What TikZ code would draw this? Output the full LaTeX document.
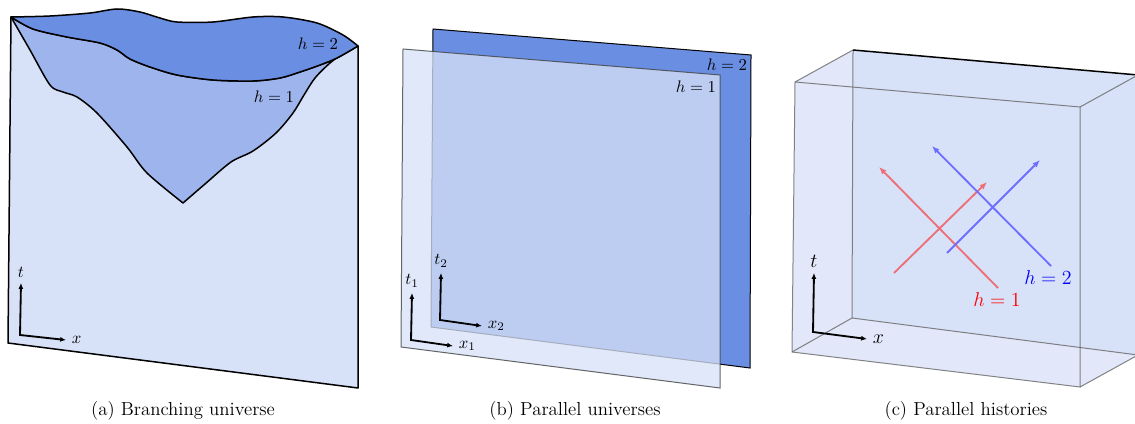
\documentclass[tikz,border=0pt]{standalone}
\usepackage{amsmath}
\usetikzlibrary{positioning,arrows.meta}
\definecolor{sheetlight}{HTML}{D7E1F7}
\definecolor{sheetmid}{HTML}{9EB4EC}
\definecolor{sheetdark}{HTML}{6A8EE2}
\definecolor{boxside}{HTML}{E2E8F9}
\definecolor{histred}{HTML}{EE6E78}
\definecolor{histblue}{HTML}{6E6EFF}
\tikzset{
  sheet/.style={draw=black,line width=0.9pt,line join=round},
  frontsheet/.style={fill=sheetlight,fill opacity=0.77,draw=black!75,draw opacity=0.8,line width=0.6pt},
  boxedge/.style={draw=black!60,draw opacity=0.8,line width=0.6pt},
  axis/.style={{Latex[length=3.5pt,width=3pt]}-{Latex[length=3.5pt,width=3pt]},line width=1.1pt},
  hist/.style={-{Latex[length=4.5pt,width=3.6pt]},line width=1.1pt},
  capt/.style={font=\fontsize{11.3}{13}\selectfont},
  big/.style={font=\fontsize{12.5}{14}\selectfont},
}
\begin{document}
\begin{tikzpicture}[x=0.6pt,y=-0.6pt]
\useasboundingbox (0,0) rectangle (1135,424);
\clip (0,0) rectangle (1135,424);

% (a) branching universe
\filldraw[sheet,fill=sheetlight] (11,17) -- (8,343) -- (358,388) -- (358,46);
\filldraw[sheet,fill=sheetmid]
  plot[smooth] coordinates {(11,17) (30,50) (50,85) (63,92) (77,97) (97,113) (127,147) (147,173) (183,203)}
  -- plot[smooth] coordinates {(183,203) (205,184) (231,162) (253,151) (276,133) (293,113) (304,95) (315,78) (330,63) (345,52) (358,46)}
  -- plot[smooth] coordinates {(358,46) (337,58) (320,65) (300,72) (280,78) (253,81) (213,80) (177,75) (150,67) (130,59) (117,50) (100,43) (67,37) (33,29) (11,17)}
  -- cycle;
\filldraw[sheet,fill=sheetdark]
  plot[smooth] coordinates {(11,17) (50,16) (90,13) (117,9) (140,12) (160,18) (177,22) (213,22) (253,17) (283,17) (317,23) (343,35) (358,46)}
  -- plot[smooth] coordinates {(358,46) (337,58) (320,65) (300,72) (280,78) (253,81) (213,80) (177,75) (150,67) (130,59) (117,50) (100,43) (67,37) (33,29) (11,17)}
  -- cycle;
\node (ha2) at (318,44) {$h=2$};
\node (ha1) at (274,97) {$h=1$};
\coordinate (oa) at (20,335);
\coordinate (ta) at (21,283);
\coordinate (xa) at (66,340);
\draw[axis] (ta) -- (oa) -- (xa);
\node[above=0pt of ta] (lta) {$t$};
\node[right=0pt of xa] (lxa) {$x$};
\node[capt] (capa) at (183,411) {(a) Branching universe};

% (b) parallel universes
\filldraw[draw=black,line width=0.6pt,fill=sheetdark] (433,29) -- (751,55) -- (750,368) -- (431,327) -- cycle;
\filldraw[frontsheet] (403,49) -- (720,75) -- (720,388) -- (401,347) -- cycle;
\node (hb2) at (727,65) {$h=2$};
\node (hb1) at (696,87) {$h=1$};
\coordinate (ob2) at (440,320);
\coordinate (tb2) at (441,273);
\coordinate (xb2) at (482,326);
\draw[axis] (tb2) -- (ob2) -- (xb2);
\node[above=0pt of tb2] (ltb2) {$t_2$};
\node[right=0pt of xb2] (lxb2) {$x_2$};
\coordinate (ob1) at (411,340);
\coordinate (tb1) at (412,293);
\coordinate (xb1) at (453,346);
\draw[axis] (tb1) -- (ob1) -- (xb1);
\node[above=0pt of tb1] (ltb1) {$t_1$};
\node[right=0pt of xb1] (lxb1) {$x_1$};
\node[capt] (capb) at (575,411) {(b) Parallel universes};

% (c) parallel histories
\coordinate (ftl) at (795,82);
\coordinate (ftr) at (1080,107);
\coordinate (fbr) at (1080,387);
\coordinate (fbl) at (792,352);
\coordinate (btl) at (853,50);
\coordinate (btr) at (1138,75);
\coordinate (bbr) at (1138,355);
\coordinate (bbl) at (852,318);
\fill[boxside] (ftl) -- (btl) -- (btr) -- (bbr) -- (fbr) -- (fbl) -- cycle;
\fill[sheetlight] (btl) -- (btr) -- (bbr) -- (bbl) -- cycle;
\draw[boxedge] (ftl) -- (ftr) -- (fbr) -- (fbl) -- cycle;
\draw[boxedge] (btr) -- (bbr) -- (bbl) -- (btl);
\draw[boxedge] (ftl) -- (btl) (ftr) -- (btr) (fbr) -- (bbr) (fbl) -- (bbl);
\draw[line width=0.9pt] (btl) -- (btr);

\coordinate (r1s) at (894,273);
\coordinate (r1e) at (987,182);
\coordinate (r2s) at (998,288);
\coordinate (r2e) at (879,167);
\coordinate (b1s) at (947,253);
\coordinate (b1e) at (1040,160);
\coordinate (b2s) at (1051,266);
\coordinate (b2e) at (932,146);
\draw[hist,histred] (r1s) -- (r1e);
\draw[hist,histred] (r2s) -- (r2e);
\draw[hist,histblue] (b1s) -- (b1e);
\draw[hist,histblue] (b2s) -- (b2e);
\node[big,text=red] (hc1) at (997,300) {$h=1$};
\node[big,text=blue] (hc2) at (1048,278) {$h=2$};

\coordinate (oc) at (813,332);
\coordinate (tc) at (814,273);
\coordinate (xc) at (867,339);
\draw[axis] (tc) -- (oc) -- (xc);
\node[big,above=0pt of tc] (ltc) {$t$};
\node[big,right=0pt of xc] (lxc) {$x$};
\node[capt] (capc) at (966,411) {(c) Parallel histories};
\end{tikzpicture}
\end{document}
